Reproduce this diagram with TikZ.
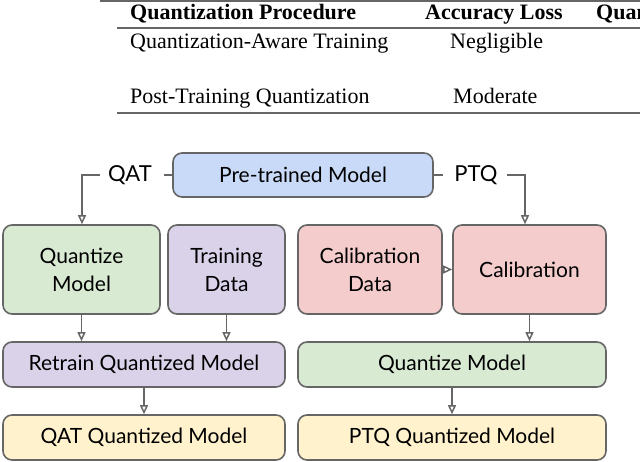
\documentclass[tikz,border=0pt]{standalone}
\usepackage{fontspec}
\setmainfont{Liberation Serif}
\newfontfamily\diag{Lato}
\usetikzlibrary{arrows.meta}
\definecolor{cblue}{HTML}{C9DAF8}
\definecolor{cgreen}{HTML}{D9EAD3}
\definecolor{cpurple}{HTML}{D9D2E9}
\definecolor{cred}{HTML}{F4CCCC}
\definecolor{cyellow}{HTML}{FFF2CC}
\definecolor{cedge}{HTML}{666666}
\tikzset{
  bx/.style={draw=cedge, line width=1.6pt, rounded corners=9pt, inner sep=0pt, font=\diag\fontsize{21}{28}\selectfont, align=center},
  conn/.style={draw=cedge, line width=1.5pt, -{Triangle[open,length=9pt,width=8pt]}},
  plain/.style={draw=cedge, line width=1.5pt},
  lbl/.style={font=\diag\fontsize{22}{26}\selectfont, inner sep=0pt},
  tab/.style={font=\fontsize{22}{26}\selectfont, inner sep=0pt, anchor=base west},
}
\newcommand{\bxat}[7]{\node[bx, fill=#6, minimum width={(#3-#2)*1pt}, minimum height={(#5-#4)*1pt}] (#1) at ({(#2+#3)/2*1pt},{-(#4+#5)/2*1pt}) {#7};}
\begin{document}
\begin{tikzpicture}[x=1pt,y=-1pt]
\useasboundingbox (0,0) rectangle (640,462);
\clip (0,0) rectangle (640,462);
% table
\draw[line width=2pt, draw=cedge] (100,1.5) -- (640,1.5);
\draw[line width=1.5pt, draw=cedge] (117,28) -- (640,28);
\draw[line width=2pt, draw=cedge] (117,113) -- (640,113);
\node[tab] (h1) at (130,20) {\textbf{Quantization Procedure}};
\node[tab] (h2) at (425,20) {\textbf{Accuracy Loss}};
\node[tab] (h3) at (596,20) {\textbf{Quan}};
\node[tab] (r1) at (130,49) {Quantization-Aware Training};
\node[tab] (r1b) at (450,49) {Negligible};
\node[tab] (r2) at (130,104) {Post-Training Quantization};
\node[tab] (r2b) at (453,104) {Moderate};
% boxes
\bxat{pre}{173}{433}{153}{197}{cblue}{Pre-trained Model}
\bxat{qm}{3}{160}{225}{314}{cgreen}{Quantize\\Model}
\bxat{td}{168}{285}{225}{314}{cpurple}{Training\\Data}
\bxat{cd}{298}{442}{225}{314}{cred}{Calibration\\Data}
\bxat{cal}{453}{606}{225}{314}{cred}{Calibration}
\bxat{rq}{3}{285}{342}{387}{cpurple}{Retrain Quantized Model}
\bxat{qm2}{298}{606}{342}{387}{cgreen}{Quantize Model}
\bxat{qat}{3}{285}{415}{460}{cyellow}{QAT Quantized Model}
\bxat{ptq}{298}{606}{415}{460}{cyellow}{PTQ Quantized Model}
% labels
\node[lbl] (lq) at (130,175) {QAT};
\node[lbl] (lp) at (476,175) {PTQ};
% connectors
\draw[plain] (pre.west) -- ++(-8,0);
\draw[conn] ([xshift=-8pt]lq.west) -- (82,175) -- (qm.north -| 82,0);
\draw[plain] (pre.east) -- ++(9,0);
\draw[conn] ([xshift=9pt]lp.east) -- (525,175) -- (cal.north -| 525,0);
\draw[conn] (cd.east) -- (cal.west);
\draw[conn] (qm.south) -- (qm.south |- rq.north);
\draw[conn] (td.south) -- (td.south |- rq.north);
\draw[conn] (cal.south) -- (cal.south |- qm2.north);
\draw[conn] (rq.south) -- (qat.north);
\draw[conn] (qm2.south) -- (ptq.north);
\end{tikzpicture}
\end{document}
